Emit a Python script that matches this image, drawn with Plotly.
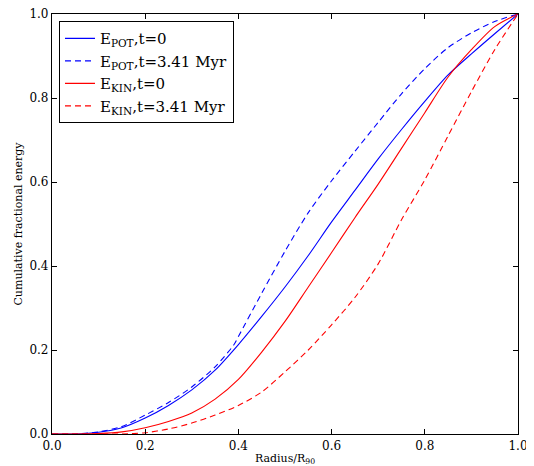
import plotly.graph_objects as go

x = [0.0, 0.05, 0.1, 0.15, 0.2, 0.25, 0.3, 0.35, 0.4, 0.45, 0.5, 0.55, 0.6, 0.65, 0.7, 0.75, 0.8, 0.85, 0.9, 0.95, 1.0]
pot_t0 = [0.0, 0.0, 0.004, 0.015, 0.038, 0.068, 0.105, 0.152, 0.213, 0.28, 0.35, 0.425, 0.505, 0.58, 0.655, 0.725, 0.792, 0.855, 0.905, 0.953, 1.0]
x_pot_t = [0.0, 0.05, 0.1, 0.15, 0.2, 0.25, 0.3, 0.35, 0.39, 0.4, 0.45, 0.5, 0.55, 0.6, 0.65, 0.7, 0.75, 0.8, 0.85, 0.9, 0.95, 1.0]
pot_t = [0.0, 0.0, 0.005, 0.018, 0.045, 0.075, 0.112, 0.16, 0.212, 0.232, 0.335, 0.435, 0.527, 0.603, 0.673, 0.742, 0.81, 0.87, 0.92, 0.955, 0.982, 1.0]
kin_t0 = [0.0, 0.0, 0.001, 0.005, 0.015, 0.03, 0.05, 0.083, 0.13, 0.195, 0.268, 0.35, 0.432, 0.515, 0.595, 0.68, 0.765, 0.85, 0.915, 0.97, 1.0]
kin_t = [0.0, 0.0, 0.0, 0.0, 0.003, 0.012, 0.026, 0.045, 0.068, 0.1, 0.148, 0.2, 0.26, 0.325, 0.405, 0.51, 0.605, 0.71, 0.815, 0.915, 1.0]

names = ["E<sub>POT</sub>,t=0", "E<sub>POT</sub>,t=3.41 Myr", "E<sub>KIN</sub>,t=0", "E<sub>KIN</sub>,t=3.41 Myr"]
x_tick = [0.0, 0.2, 0.4, 0.6, 0.8, 1.0]
y_tick = [0.0, 0.2, 0.4, 0.6, 0.8, 1.0]

fig = go.Figure()
fig.add_trace(go.Scatter(x=x, y=pot_t0, mode="lines", name=names[0], line=dict(color="#0000ff", width=1.1, shape="spline", smoothing=0.8)))
fig.add_trace(go.Scatter(x=x_pot_t, y=pot_t, mode="lines", name=names[1], line=dict(color="#0000ff", width=1.1, dash="6px,4px", shape="spline", smoothing=0.8)))
fig.add_trace(go.Scatter(x=x, y=kin_t0, mode="lines", name=names[2], line=dict(color="#ff0000", width=1.1, shape="spline", smoothing=0.8)))
fig.add_trace(go.Scatter(x=x, y=kin_t, mode="lines", name=names[3], line=dict(color="#ff0000", width=1.1, dash="6px,4px", shape="spline", smoothing=0.8)))

font = "DejaVu Serif"
axis_common = dict(
    range=[0, 1], showgrid=False, zeroline=False, showline=True, linecolor="black", linewidth=1.2,
    mirror="allticks", ticks="inside", ticklen=5, tickcolor="black", automargin=False,
    ticklabeloverflow="allow",
    tickfont=dict(family=font, size=12, color="black"), tickformat=".1f",
)
fig.update_xaxes(tickvals=x_tick, title=dict(text="Radius/R<sub>90</sub>", font=dict(family=font, size=11, color="black"), standoff=2), **axis_common)
fig.update_yaxes(tickvals=y_tick, title=dict(text="Cumulative fractional energy", font=dict(family=font, size=11, color="black"), standoff=4), **axis_common)

fig.update_layout(
    width=526, height=458,
    margin=dict(l=44, r=16, t=6, b=32),
    paper_bgcolor="white", plot_bgcolor="white",
    font=dict(family=font, color="black"),
    legend=dict(x=0.015, y=0.983, xanchor="left", yanchor="top", bgcolor="white",
                bordercolor="black", borderwidth=1, font=dict(family=font, size=15, color="black"),
                tracegroupgap=0, itemwidth=30),
    showlegend=True,
)

fig.write_html("out.html")
